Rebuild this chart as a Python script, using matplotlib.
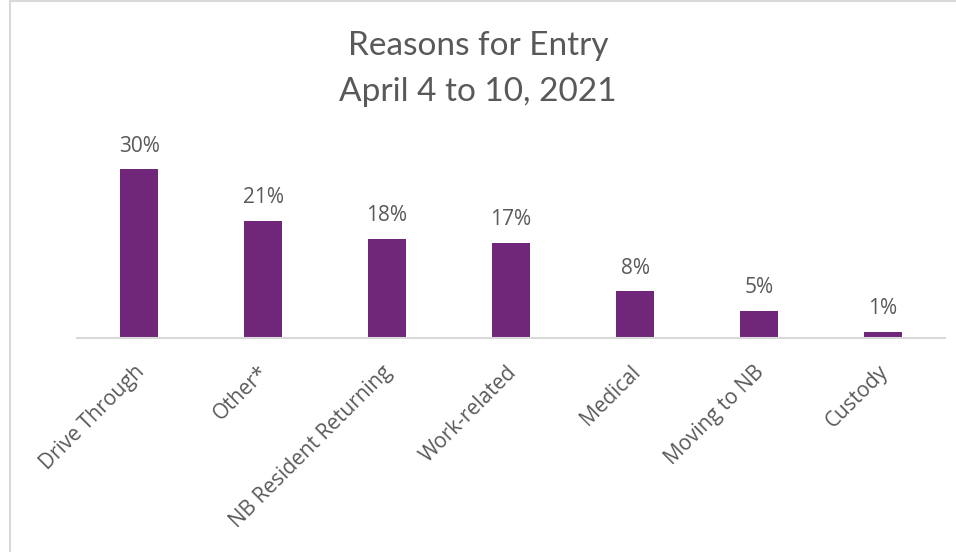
import matplotlib.pyplot as plt
import matplotlib.transforms as mtransforms
from matplotlib.lines import Line2D

# data
categorias = ["Drive Through", "Other*", "NB Resident Returning", "Work-related",
              "Medical", "Moving to NB", "Custody"]
porcentajes = [30.0, 20.8, 17.6, 16.9, 8.3, 4.8, 1.1]
etiquetas = ["30%", "21%", "18%", "17%", "8%", "5%", "1%"]

COLOR_BARRA = "#70277A"
COLOR_TEXTO = "#595959"
COLOR_LINEA = "#D9D9D9"

W, H = 956, 552
fig = plt.figure(figsize=(W / 100, H / 100), dpi=100)

# axes placed in pixel terms: baseline at y=338, spans x 77..945
x0, x1 = 77, 945
y_base, y_top = 338, 141
ax = fig.add_axes([x0 / W, 1 - y_base / H, (x1 - x0) / W, (y_base - y_top) / H])

pos = range(len(categorias))
barras = ax.bar(pos, porcentajes, width=0.31, color=COLOR_BARRA)
ax.set_xlim(-0.5, len(categorias) - 0.5)
ax.set_ylim(0, 35)

for barra, txt in zip(barras, etiquetas):
    ax.annotate(txt, (barra.get_x() + barra.get_width() / 2, barra.get_height()),
                xytext=(0, 9), textcoords="offset points", ha="center", va="bottom",
                fontsize=15, color=COLOR_TEXTO, family="Open Sans")

ax.set_xticks(list(pos))
ax.set_xticklabels(categorias, rotation=45, ha="right", va="top", rotation_mode="anchor",
                   fontsize=15, color=COLOR_TEXTO, family="Open Sans")
ax.tick_params(axis="x", length=0, pad=17)
desplazamiento = mtransforms.ScaledTranslation(-5 / 100, 0, fig.dpi_scale_trans)
for lbl in ax.get_xticklabels():
    lbl.set_transform(lbl.get_transform() + desplazamiento)
ax.set_yticks([])
for lado in ["top", "right", "left"]:
    ax.spines[lado].set_visible(False)
ax.spines["bottom"].set_color(COLOR_LINEA)
ax.spines["bottom"].set_linewidth(1.5)

fig.text(0.5, 1 - 46 / H, "Reasons for Entry", ha="center", va="center",
         fontsize=24, color=COLOR_TEXTO, family="Lato")
fig.text(0.5, 1 - 92 / H, "April 4 to 10, 2021", ha="center", va="center",
         fontsize=24, color=COLOR_TEXTO, family="Lato")

# chart frame (only top and left edges visible in the crop)
fig.add_artist(Line2D([9.5 / W, 1], [1 - 1 / H, 1 - 1 / H], transform=fig.transFigure,
                      color=COLOR_LINEA, linewidth=1.5))
fig.add_artist(Line2D([9.5 / W, 9.5 / W], [0, 1 - 1 / H], transform=fig.transFigure,
                      color=COLOR_LINEA, linewidth=1.5))

fig.savefig("out.png", dpi=100)
